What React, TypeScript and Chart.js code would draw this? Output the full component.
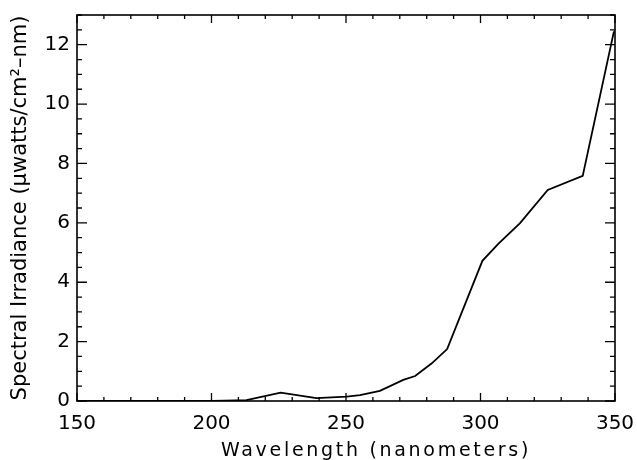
import React, { useEffect, useRef } from 'react';
import { Chart, registerables } from 'chart.js';

Chart.register(...registerables);

const wavelengths = [150, 200, 205, 213, 225.7, 239, 250.3, 255.2, 262.6, 271.3, 275.7, 281.9, 287.6, 300.7, 306.6, 314.7, 325, 338, 349.6];
const irradiance = [0, 0, 0.01, 0.03, 0.28, 0.1, 0.15, 0.2, 0.34, 0.71, 0.84, 1.27, 1.75, 4.72, 5.29, 5.99, 7.11, 7.58, 12.45];

const xMin = 150;
const xMax = 350;
const xMajor = 50;
const xMinor = 10;
const yMin = 0;
const yMax = 13;
const yMajor = 2;
const yMinor = 0.5;

const xTitle = 'Wavelength (nanometers)';
const yTitle = 'Spectral Irradiance (\u03bcwatts/cm\u00b2\u2013nm)';

const FONT = "'DejaVu Sans', sans-serif";

const framePlugin = {
  id: 'frameTicks',
  afterDraw(chart: any) {
    const { ctx, chartArea, scales } = chart;
    const { left, right, top, bottom } = chartArea;
    const x = scales.x;
    const y = scales.y;
    ctx.save();
    ctx.strokeStyle = '#000';
    ctx.lineWidth = 1.6;
    ctx.strokeRect(left, top, right - left, bottom - top);
    ctx.lineWidth = 1.3;
    ctx.beginPath();
    for (let i = 0; xMin + i * xMinor <= xMax + 1e-9; i++) {
      const v = xMin + i * xMinor;
      const px = x.getPixelForValue(v);
      const isMajor = Math.abs(v / xMajor - Math.round(v / xMajor)) < 1e-9;
      const len = isMajor ? 8 : 4;
      ctx.moveTo(px, bottom);
      ctx.lineTo(px, bottom - len);
      ctx.moveTo(px, top);
      ctx.lineTo(px, top + len);
    }
    for (let i = 0; yMin + i * yMinor <= yMax + 1e-9; i++) {
      const v = yMin + i * yMinor;
      const py = y.getPixelForValue(v);
      const isMajor = Math.abs(v / yMajor - Math.round(v / yMajor)) < 1e-9;
      const len = isMajor ? 10 : 5;
      ctx.moveTo(left, py);
      ctx.lineTo(left + len, py);
      ctx.moveTo(right, py);
      ctx.lineTo(right - len, py);
    }
    ctx.stroke();

    // x-axis title (wide letter spacing like the original plotting font)
    ctx.fillStyle = '#000';
    ctx.font = `19px ${FONT}`;
    (ctx as any).letterSpacing = '2.7px';
    ctx.textAlign = 'center';
    ctx.textBaseline = 'alphabetic';
    ctx.fillText(xTitle, (left + right) / 2 + 30, bottom + 54.5);
    ctx.restore();
  },
};

const zeroPad = (scale: any) => {
  scale.paddingLeft = 0;
  scale.paddingRight = 0;
  scale.paddingTop = 0;
  scale.paddingBottom = 0;
};

export default function App() {
  const ref = useRef<HTMLCanvasElement | null>(null);

  useEffect(() => {
    document.body.style.margin = '0';
    const canvas = ref.current;
    if (!canvas) return;
    const chart = new Chart(canvas, {
      type: 'line',
      data: {
        datasets: [
          {
            data: wavelengths.map((w, i) => ({ x: w, y: irradiance[i] })),
            borderColor: '#000',
            borderWidth: 1.8,
            pointRadius: 0,
            tension: 0,
            fill: false,
          },
        ],
      },
      options: {
        responsive: false,
        animation: false,
        devicePixelRatio: 1,
        layout: { padding: { left: 0, top: 15, right: 22, bottom: 0 } },
        plugins: {
          legend: { display: false },
          tooltip: { enabled: false },
        },
        scales: {
          x: {
            type: 'linear',
            min: xMin,
            max: xMax,
            afterFit: (scale: any) => {
              scale.height = 59;
              zeroPad(scale);
            },
            grid: { display: false, drawTicks: false },
            border: { display: false },
            ticks: {
              stepSize: xMajor,
              includeBounds: false,
              color: '#000',
              padding: 11,
              maxRotation: 0,
              font: { family: FONT, size: 20 },
            },
            title: { display: false },
          },
          y: {
            type: 'linear',
            min: yMin,
            max: yMax,
            afterFit: (scale: any) => {
              scale.width = 77;
              zeroPad(scale);
            },
            grid: { display: false, drawTicks: false },
            border: { display: false },
            ticks: {
              stepSize: yMajor,
              includeBounds: false,
              color: '#000',
              padding: 7,
              font: { family: FONT, size: 20 },
            },
            title: {
              display: true,
              text: yTitle,
              color: '#000',
              font: { family: FONT, size: 21 },
              padding: { top: 7.5, bottom: 0 },
            },
          },
        },
      },
      plugins: [framePlugin],
    });
    return () => chart.destroy();
  }, []);

  return (
    <div style={{ width: 637, height: 460, background: '#fff' }}>
      <canvas ref={ref} width={637} height={460} style={{ display: 'block' }} />
    </div>
  );
}
